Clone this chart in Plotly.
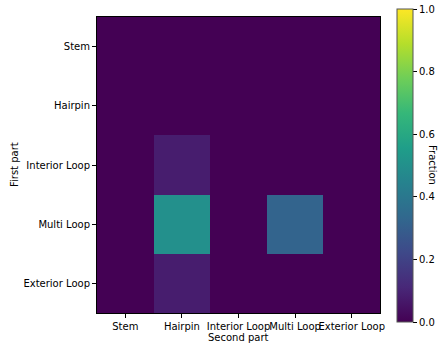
import plotly.graph_objects as go

parts = ["Stem", "Hairpin", "Interior Loop", "Multi Loop", "Exterior Loop"]
# rows: first part, cols: second part
fractions = [
    [0.0, 0.0, 0.0, 0.0, 0.0],
    [0.0, 0.0, 0.0, 0.0, 0.0],
    [0.0, 0.08, 0.0, 0.0, 0.0],
    [0.0, 0.50, 0.0, 0.32, 0.0],
    [0.0, 0.08, 0.0, 0.0, 0.0],
]
cbar_ticks = [0.0, 0.2, 0.4, 0.6, 0.8, 1.0]

font = dict(family="DejaVu Sans", size=10, color="black")

fig = go.Figure(go.Heatmap(
    z=fractions, x=parts, y=parts,
    colorscale="Viridis", zmin=0, zmax=1,
    colorbar=dict(
        x=1.06, xanchor="left", xref="paper", xpad=0, ypad=0,
        y=0.498, yanchor="middle",
        thickness=16, lenmode="pixels", len=313,
        outlinewidth=1, outlinecolor="#555",
        tickvals=cbar_ticks, ticktext=[f"{v:.1f}" for v in cbar_ticks],
        ticks="outside", ticklen=4, tickcolor="black",
        ticklabeloverflow="allow",
        tickfont=font,
    ),
))

fig.update_xaxes(
    showline=True, linecolor="black", mirror=True, linewidth=1,
    ticks="outside", ticklen=4, tickcolor="black", tickangle=0,
    automargin=False,
    tickfont=font, showgrid=False, zeroline=False,
)
fig.update_yaxes(
    autorange="reversed", automargin=False,
    showline=True, linecolor="black", mirror=True, linewidth=1,
    ticks="outside", ticklen=4, tickcolor="black",
    tickfont=font, showgrid=False, zeroline=False,
)

fig.update_layout(
    width=440, height=346,
    margin=dict(l=97, r=60, t=17, b=33, autoexpand=False),
    paper_bgcolor="white", plot_bgcolor="white",
    font=font,
    annotations=[
        dict(text="Second part", xref="paper", yref="paper", x=0.5, y=0,
             yshift=-24, xanchor="center", yanchor="middle", showarrow=False, font=font),
        dict(text="First part", xref="paper", yref="paper", x=0, y=0.5,
             xshift=-83, xanchor="center", yanchor="middle", textangle=-90,
             showarrow=False, font=font),
        dict(text="Fraction", xref="paper", yref="paper", x=1.06, y=0.5,
             xshift=36, xanchor="center", yanchor="middle", textangle=90,
             showarrow=False, font=font),
    ],
)

fig.write_html("out.html", config={"displayModeBar": False},
               post_script="document.body.style.margin='0';")
